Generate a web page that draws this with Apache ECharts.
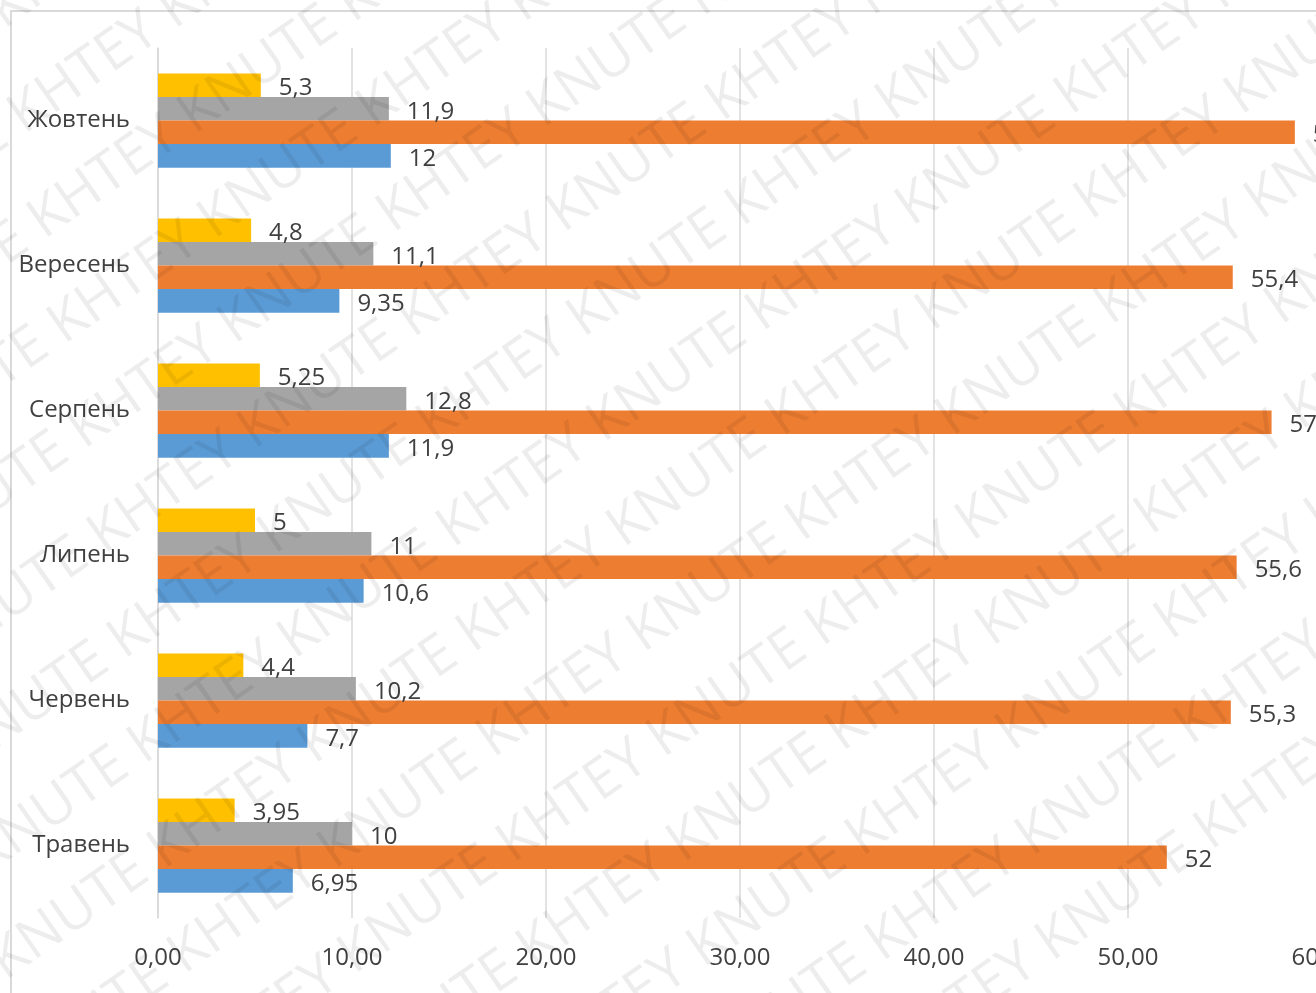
<!DOCTYPE html>
<html lang="uk">
<head>
    <meta charset="UTF-8">
    <title>Місяці</title>
    <script src="https://cdn.jsdelivr.net/npm/echarts/dist/echarts.min.js"></script>
    <style>
        html, body { margin: 0; padding: 0; background: #fff; }
        #main { width: 1316px; height: 993px; }
    </style>
</head>
<body>
    <div id="main"></div>
    <script>
        // категорії знизу вгору
        var months = ['Травень', 'Червень', 'Липень', 'Серпень', 'Вересень', 'Жовтень'];
        var blueVals = [6.95, 7.7, 10.6, 11.9, 9.35, 12];
        var orangeVals = [52, 55.3, 55.6, 57.4, 55.4, 58.6];
        var grayVals = [10, 10.2, 11, 12.8, 11.1, 11.9];
        var yellowVals = [3.95, 4.4, 5, 5.25, 4.8, 5.3];
        var xTicks = [0, 10, 20, 30, 40, 50, 60];

        var chartDom = document.getElementById('main');
        var myChart = echarts.init(chartDom);

        function comma(v) {
            return String(v).replace('.', ',');
        }

        // водяний знак
        var marks = [];
        for (var r = -8; r < 16; r++) {
            marks.push({
                type: 'text',
                x: -200 + r * 20,
                y: r * 105,
                rotation: Math.PI * 35 / 180,
                silent: true,
                z: 100,
                style: {
                    text: 'KNUTE KHTEY KNUTE KHTEY KNUTE KHTEY KNUTE KHTEY KNUTE KHTEY KNUTE KHTEY',
                    font: '56px "Open Sans"',
                    fill: 'rgba(0,0,0,0.07)'
                }
            });
        }
        marks.push({
            type: 'rect',
            shape: { x: 11, y: 11, width: 1400, height: 1100 },
            style: { fill: 'none', stroke: '#d9d9d9', lineWidth: 2 },
            silent: true
        });

        function makeSeries(name, vals, color) {
            return {
                name: name,
                type: 'bar',
                data: vals,
                barGap: '0%',
                barCategoryGap: '35%',
                itemStyle: { color: color },
                label: {
                    show: true,
                    position: 'right',
                    distance: 18,
                    offset: [0, 3],
                    color: '#404040',
                    fontSize: 24,
                    fontFamily: 'Open Sans',
                    formatter: function (p) { return comma(p.value); }
                }
            };
        }

        var option = {
            animation: false,
            backgroundColor: '#fff',
            graphic: marks,
            grid: {
                left: 158, width: 1164, top: 48, height: 870,
                containLabel: false,
                outerBoundsMode: 'none'
            },
            xAxis: {
                type: 'value',
                min: xTicks[0],
                max: xTicks[xTicks.length - 1],
                interval: 10,
                axisLine: { show: false },
                axisTick: { show: false },
                splitLine: { lineStyle: { color: '#d9d9d9', width: 1.5 } },
                axisLabel: {
                    margin: 28,
                    color: '#404040',
                    fontSize: 24,
                    fontFamily: 'Open Sans',
                    formatter: function (v) { return v.toFixed(2).replace('.', ','); }
                }
            },
            yAxis: {
                type: 'category',
                data: months,
                axisLine: { lineStyle: { color: '#d9d9d9', width: 1.5 } },
                axisTick: { show: false },
                axisLabel: {
                    margin: 28,
                    color: '#404040',
                    fontSize: 24,
                    fontFamily: 'Open Sans',
                    padding: [4, 0, 0, 0]
                }
            },
            // у горизонтальних смугах перша серія стоїть зверху групи
            series: [
                makeSeries('s4', yellowVals, '#FFC000'),
                makeSeries('s3', grayVals, '#A5A5A5'),
                makeSeries('s2', orangeVals, '#ED7D31'),
                makeSeries('s1', blueVals, '#5B9BD5')
            ]
        };

        myChart.setOption(option);
    </script>
</body>
</html>
